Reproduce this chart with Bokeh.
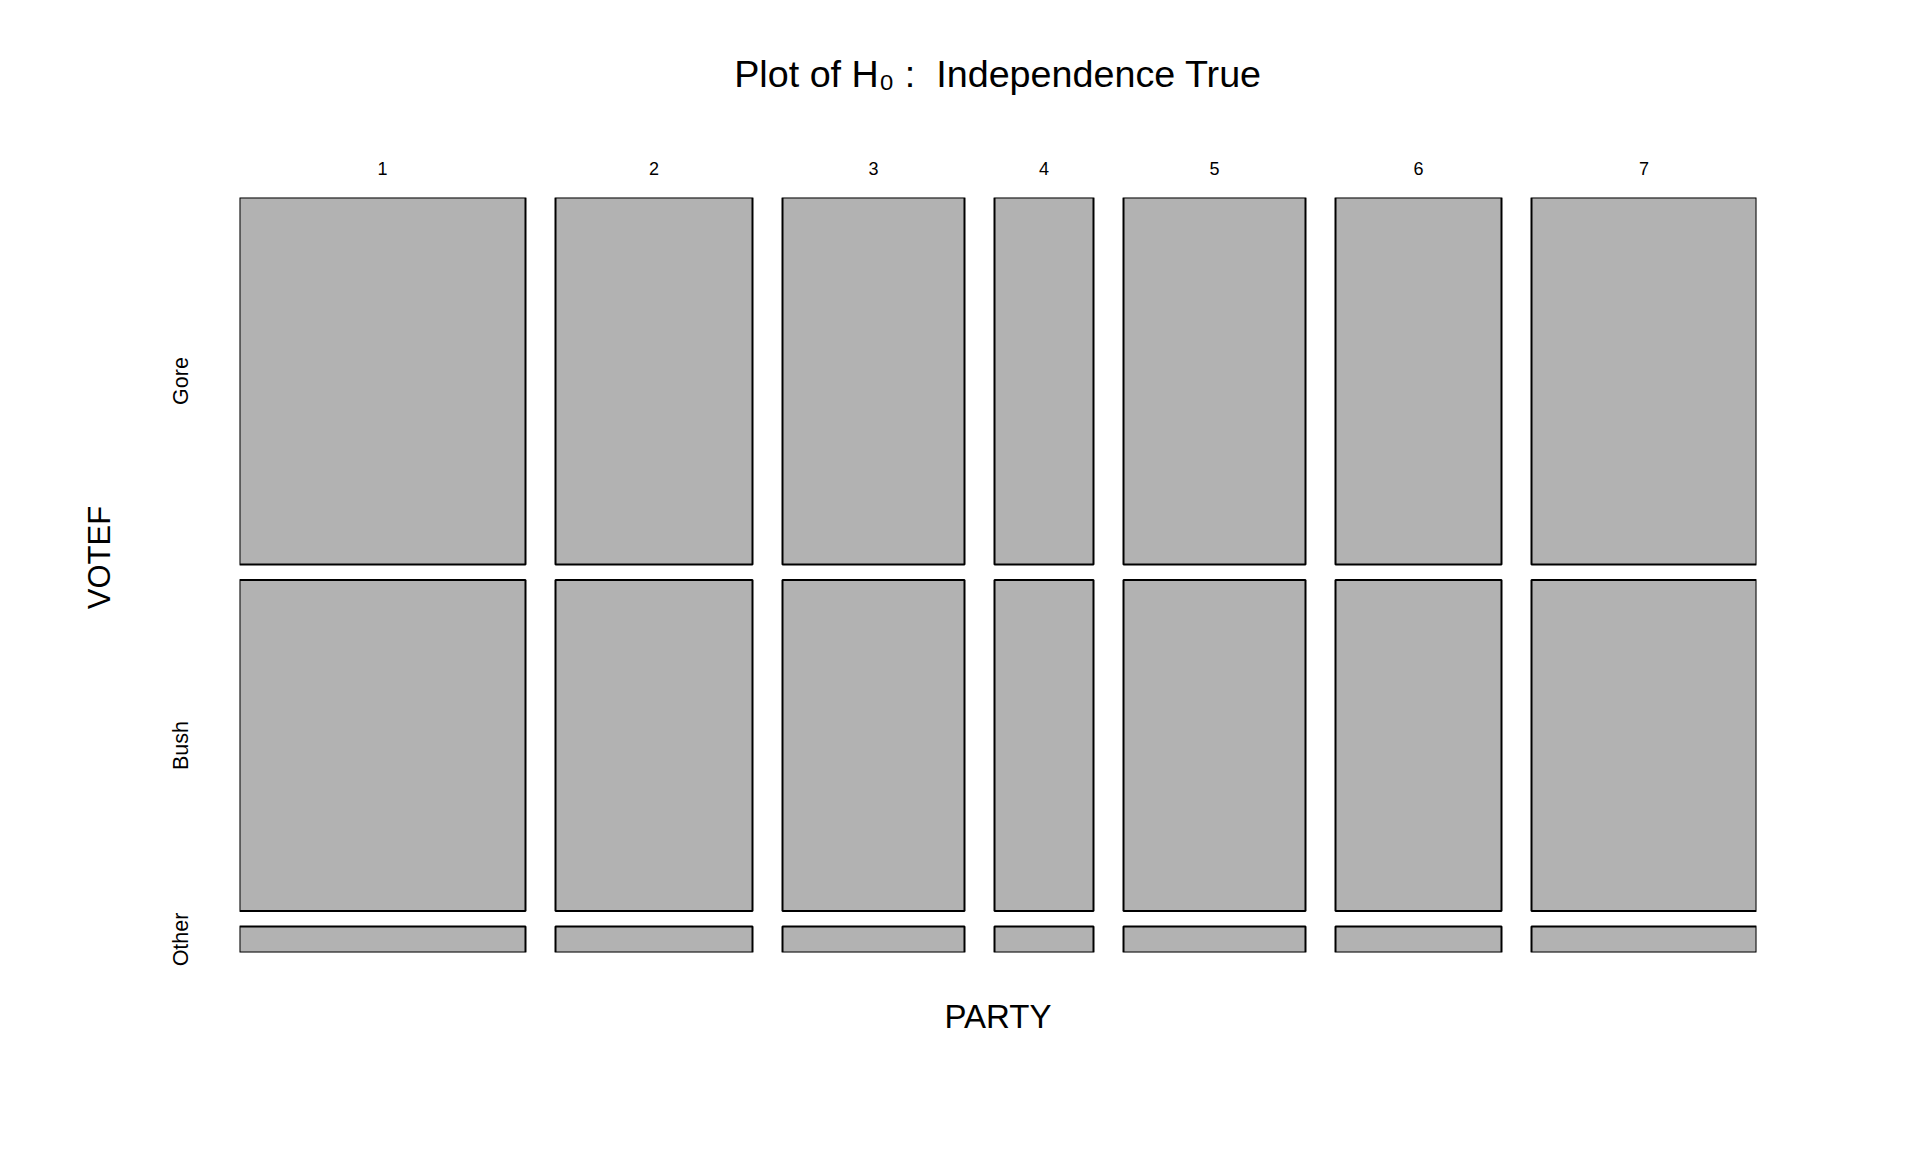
from bokeh.plotting import figure
from bokeh.models import Range1d, LinearAxis, FixedTicker, ColumnDataSource
from bokeh.embed import file_html
from bokeh.resources import INLINE

# ---- data ----
party = ["1", "2", "3", "4", "5", "6", "7"]
party_n = [286, 197, 182, 99, 182, 166, 225]          # column widths ~ PARTY margin
votef = ["Gore", "Bush", "Other"]
vote_share = [0.507, 0.457, 0.036]                      # row heights ~ VOTEF margin
TITLE = "Plot of H\u2080 :\u00a0 Independence True"

# ---- layout constants ----
FONT = "Liberation Sans"
FW, FH = 1517, 755
GX = 30 / FW          # gap between columns (fraction of frame)
GY = 15.5 / FH        # gap between rows
VOTEF_POS = 1 - (557 - 197) / FH   # y-title sits slightly above the frame centre

tot = float(sum(party_n))
usable_x = 1 - GX * (len(party_n) - 1)
usable_y = 1 - GY * (len(vote_share) - 1)

lefts, rights, xc = [], [], []
x = 0.0
for n in party_n:
    w = n / tot * usable_x
    lefts.append(x); rights.append(x + w); xc.append(x + w / 2)
    x += w + GX

tops, bottoms, yc = [], [], []
y = 1.0
for s in vote_share:
    h = s * usable_y
    tops.append(y); bottoms.append(y - h); yc.append(y - h / 2)
    y -= h + GY

L, R, T, B = [], [], [], []
for i in range(len(party)):
    for j in range(len(votef)):
        L.append(lefts[i]); R.append(rights[i]); T.append(tops[j]); B.append(bottoms[j])
src = ColumnDataSource(dict(left=L, right=R, top=T, bottom=B))

p = figure(frame_width=FW, frame_height=FH, output_backend="svg", toolbar_location=None,
           x_range=Range1d(0, 1), y_range=Range1d(0, 1),
           min_border_left=239, min_border_right=164, min_border_top=197, min_border_bottom=200,
           x_axis_location=None, y_axis_location=None)
p.outline_line_color = None
p.grid.visible = False
p.background_fill_color = "white"

p.quad(left="left", right="right", top="top", bottom="bottom", source=src,
       fill_color="#B2B2B2", line_color="black", line_width=2)

def style(ax):
    ax.axis_line_color = None
    ax.major_tick_line_color = None
    ax.minor_tick_line_color = None
    ax.major_tick_in = 0
    ax.major_tick_out = 0
    ax.major_label_text_font = FONT
    ax.axis_label_text_font = FONT
    ax.axis_label_text_font_style = "normal"
    ax.axis_label_text_color = "black"
    ax.major_label_text_color = "black"

top_ax = LinearAxis(ticker=FixedTicker(ticks=xc),
                    major_label_overrides={v: lab for v, lab in zip(xc, party)})
style(top_ax)
top_ax.major_label_text_font_size = "18px"
top_ax.major_label_standoff = 23
p.add_layout(top_ax, "above")

# main title, drawn as the label of an outer (tick-less) top axis
title_top = LinearAxis(ticker=FixedTicker(ticks=[]), axis_label=TITLE)
style(title_top)
title_top.axis_label_text_font_size = "37.7px"
title_top.axis_label_standoff = 64
p.add_layout(title_top, "above")

left_ax = LinearAxis(ticker=FixedTicker(ticks=yc),
                     major_label_overrides={v: lab for v, lab in zip(yc, votef)})
style(left_ax)
left_ax.major_label_text_font_size = "21.5px"
left_ax.major_label_orientation = "vertical"
left_ax.major_label_standoff = 46
p.add_layout(left_ax, "left")

# y title "VOTEF" as an outer left axis with one labelled position
title_ax = LinearAxis(ticker=FixedTicker(ticks=[VOTEF_POS]),
                      major_label_overrides={VOTEF_POS: "VOTEF"})
style(title_ax)
title_ax.major_label_text_font_size = "31px"
title_ax.major_label_orientation = "vertical"
title_ax.major_label_standoff = 50
p.add_layout(title_ax, "left")

bot_ax = LinearAxis(ticker=FixedTicker(ticks=[]), axis_label="PARTY")
style(bot_ax)
bot_ax.axis_label_text_font_size = "33px"
bot_ax.axis_label_standoff = 45
p.add_layout(bot_ax, "below")

open("out.html", "w").write(file_html(p, INLINE))
